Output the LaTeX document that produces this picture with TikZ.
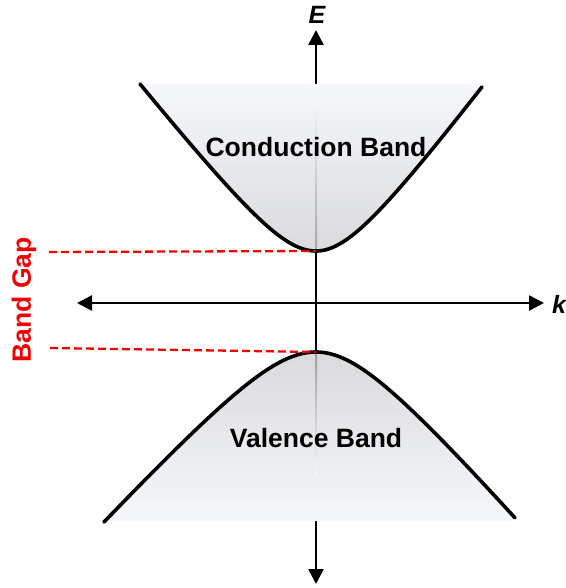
\documentclass[tikz,border=0pt]{standalone}
\usepackage{fontspec}
\setmainfont{Liberation Sans}
\usetikzlibrary{arrows.meta}
\definecolor{bandlight}{RGB}{246,247,251}
\definecolor{banddark}{RGB}{218,218,220}
\definecolor{gapred}{RGB}{240,0,0}
\tikzset{
  axisline/.style={line width=2.5pt, -{Triangle[length=15pt,width=15pt]}},
  bandcurve/.style={line width=3.6pt, line cap=round, line join=round},
  gapline/.style={gapred, line width=2.3pt, dash pattern=on 8pt off 4pt},
  bandlabel/.style={font=\fontsize{26.5}{30}\selectfont\bfseries, inner sep=0pt},
  axislabel/.style={font=\fontsize{25}{30}\selectfont\bfseries\itshape, inner sep=0pt},
}
\begin{document}
\begin{tikzpicture}[x=1pt,y=-1pt]
\useasboundingbox (0,0) rectangle (565,588);
% coordinates
\coordinate (origin) at (316,303);
\coordinate (etop) at (316,30);
\coordinate (ebot) at (316,584);
\coordinate (kleft) at (77,303);
\coordinate (kright) at (544,303);
\coordinate (cbmin) at (316,251);
\coordinate (vbmax) at (316,352);
\coordinate (gapA) at (49,252);
\coordinate (gapB) at (50,348);
% axes
\draw[axisline] (origin) -- (etop);
\draw[axisline] (origin) -- (ebot);
\draw[axisline] (origin) -- (kleft);
\draw[axisline] (origin) -- (kright);
% conduction band fill
\shade[top color=bandlight, bottom color=banddark]
  (140,84) -- plot[domain=-176:0, samples=80] ({316+\x},{251-62.8*(sqrt(1+(\x/50)^2)-1)})
  -- plot[domain=0:166, samples=80] ({316+\x},{251-66.5*(sqrt(1+(\x/50)^2)-1)})
  -- (482,84) -- cycle;
% valence band fill
\shade[top color=banddark, bottom color=bandlight]
  (104,521) -- plot[domain=-212:0, samples=80] ({316+\x},{352+70.5*(sqrt(1+(\x/65)^2)-1)})
  -- plot[domain=0:199, samples=80] ({316+\x},{352+74.7*(sqrt(1+(\x/65)^2)-1)})
  -- (515,521) -- cycle;
% faint axis traces inside bands
\shade[top color=bandlight, bottom color=black!35] (315,100) rectangle (317,251);
\shade[top color=black!38, bottom color=bandlight] (315,352) rectangle (317,475);
% band curves
\draw[bandcurve]
  plot[domain=-176:0, samples=80] ({316+\x},{251-62.8*(sqrt(1+(\x/50)^2)-1)})
  -- plot[domain=0:166, samples=80] ({316+\x},{251-66.5*(sqrt(1+(\x/50)^2)-1)});
\draw[bandcurve]
  plot[domain=-212:0, samples=80] ({316+\x},{352+70.5*(sqrt(1+(\x/65)^2)-1)})
  -- plot[domain=0:199, samples=80] ({316+\x},{352+74.7*(sqrt(1+(\x/65)^2)-1)});
% band gap lines
\draw[gapline] (gapA) -- (cbmin);
\draw[gapline] (gapB) -- (vbmax);
% labels
\node[axislabel] (E) at (317,15) {E};
\node[axislabel] (k) at (559,304) {k};
\node[bandlabel] (cb) at (316,147) {Conduction Band};
\node[bandlabel] (vb) at (316,438) {Valence Band};
\node[bandlabel, text=gapred, rotate=90] (gap) at (24,300) {Band Gap};
\end{tikzpicture}
\end{document}
